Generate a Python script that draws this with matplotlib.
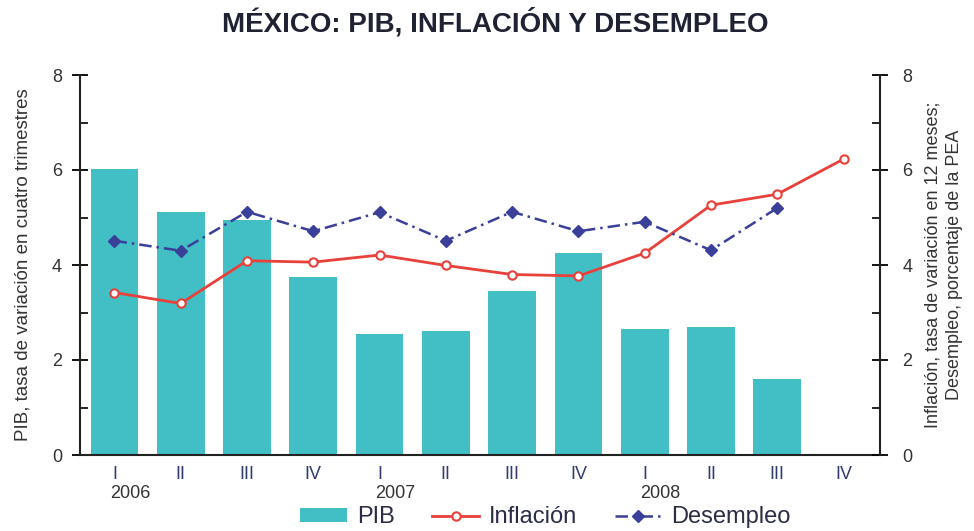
import matplotlib
matplotlib.use("Agg")
import matplotlib.pyplot as plt
import numpy as np
from matplotlib.ticker import MultipleLocator
from matplotlib.patches import Patch
from matplotlib.lines import Line2D

plt.rcParams['font.family'] = ['Liberation Sans', 'DejaVu Sans']

quarters = ["I", "II", "III", "IV", "I", "II", "III", "IV", "I", "II", "III", "IV"]
years = ["2006", "2007", "2008"]
year_pos = [0, 4, 8]
pib = [6.02, 5.11, 4.94, 3.75, 2.54, 2.62, 3.46, 4.26, 2.66, 2.70, 1.61, np.nan]
inflacion = [3.42, 3.19, 4.09, 4.06, 4.21, 3.99, 3.80, 3.77, 4.25, 5.26, 5.49, 6.23]
desempleo = [4.51, 4.30, 5.12, 4.71, 5.11, 4.51, 5.12, 4.71, 4.91, 4.31, 5.20, np.nan]

teal = '#42bfc4'
red = '#e8403a'
blue = '#3a3f9a'
txt = '#333333'

fig = plt.figure(figsize=(9.74, 5.31), dpi=100)
ax = fig.add_axes([80/974, 1-455/531, 800/974, 380/531])
x = np.arange(len(quarters))
ax.bar(x, pib, width=0.72, color=teal, zorder=2)
ax.set_xlim(-0.52, 11.55)
ax.set_ylim(0, 8)

ax2 = ax.twinx()
ax2.set_ylim(0, 8)
ax2.plot(x, inflacion, color=red, lw=2, marker='o', ms=6, mfc='white', mec=red, mew=1.5, zorder=3)
ax2.plot(x, desempleo, color=blue, lw=1.8, ls=(0, (5, 2, 1, 2)), marker='D', ms=6, mfc=blue, mec=blue, zorder=3)

for a in (ax, ax2):
    a.spines['top'].set_visible(False)
    a.yaxis.set_major_locator(MultipleLocator(2))
    a.yaxis.set_minor_locator(MultipleLocator(1))
ax.spines['right'].set_visible(False)
ax2.spines['left'].set_visible(False)
ax2.spines['bottom'].set_visible(False)
for sp in ['left', 'bottom']:
    ax.spines[sp].set_linewidth(1.5)
    ax.spines[sp].set_color('#222222')
ax2.spines['right'].set_linewidth(1.5)
ax2.spines['right'].set_color('#222222')

ax.tick_params(axis='y', which='major', direction='inout', length=12, width=1.3, labelsize=13, labelcolor=txt, pad=7)
ax.tick_params(axis='y', which='minor', direction='in', length=6, width=1.2)
ax2.tick_params(axis='y', which='major', direction='inout', length=12, width=1.3, labelsize=13, labelcolor=txt, pad=10)
ax2.tick_params(axis='y', which='minor', direction='in', length=6, width=1.2)

ax.set_xticks(x)
ax.set_xticklabels(quarters, fontsize=13, color='#2f3a70')
ax.tick_params(axis='x', length=0, pad=8)
for yr, p in zip(years, year_pos):
    ax.text(p - 0.07, -0.08, yr, transform=ax.get_xaxis_transform(), ha='left', va='top',
            fontsize=13, color=txt)

ax.set_ylabel("PIB, tasa de variación en cuatro trimestres", fontsize=13.5, color=txt)
ax2.set_ylabel("Inflación, tasa de variación en 12 meses;\nDesempleo, porcentaje de la PEA",
               fontsize=13, color=txt, rotation=90, linespacing=1.3)
ax.yaxis.set_label_coords(-0.06, 0.5)
ax2.yaxis.set_label_coords(1.056, 0.5)

fig.text(0.508, 0.958, "MÉXICO: PIB, INFLACIÓN Y DESEMPLEO", ha='center', va='center',
         fontsize=20, fontweight='bold', color='#1f2233')

handles = [Patch(facecolor=teal, edgecolor='none'),
           Line2D([], [], color=red, lw=2, marker='o', ms=6, mfc='white', mec=red, mew=1.5),
           Line2D([], [], color=blue, lw=1.8, ls=(0, (5, 2, 1, 2)), marker='D', ms=6, mfc=blue, mec=blue)]
fig.legend(handles, ["PIB", "Inflación", "Desempleo"], loc='center', bbox_to_anchor=(0.56, 0.026),
           ncol=3, frameon=False, fontsize=17, labelcolor='#2a2d45', handlelength=2.0,
           handletextpad=0.4, columnspacing=1.6, handleheight=0.5)

fig.savefig("out.png", dpi=100)
